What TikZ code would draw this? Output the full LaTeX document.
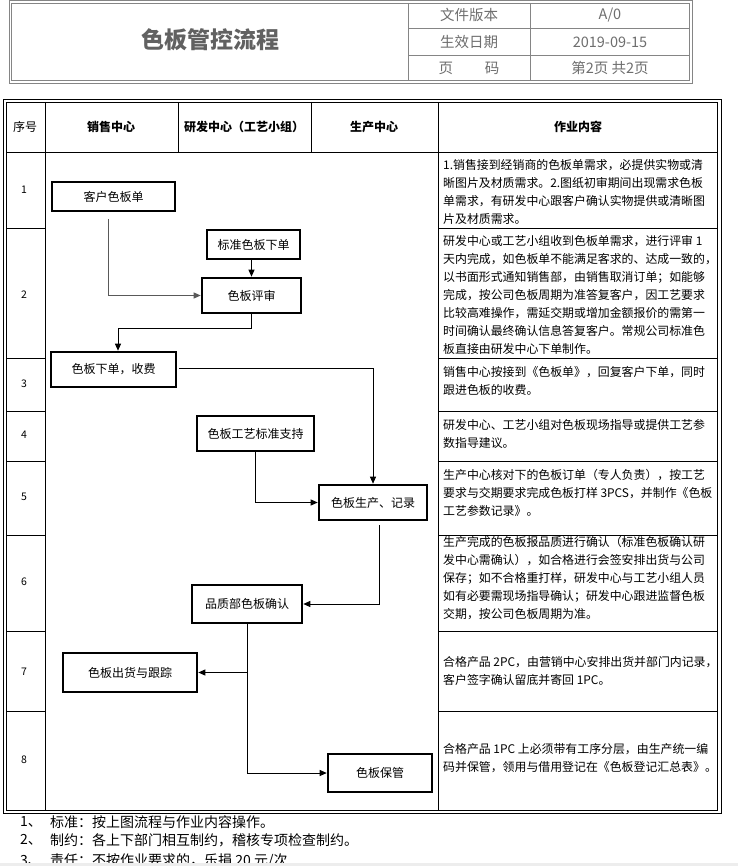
\documentclass[tikz,border=0pt]{standalone}
\usepackage{fontspec}
\setmainfont{Noto Sans CJK SC}
\usetikzlibrary{arrows.meta}
\definecolor{hdrline}{HTML}{858585}
\definecolor{hdrtext}{HTML}{6E6E6E}
\tikzset{
  box/.style={draw=black,line width=2.6pt,inner sep=0pt,font=\fontsize{12}{14}\selectfont},
  conn/.style={draw=black,line width=0.9pt},
  arr/.style={conn,-{Triangle[length=7pt,width=6pt]}},
  rowtxt/.style={anchor=west,inner sep=0pt,font=\fontsize{11.9}{14}\selectfont},
  numtxt/.style={inner sep=0pt,font=\fontsize{10.5}{12}\selectfont},
  headtxt/.style={inner sep=0pt,font=\fontsize{12}{14}\selectfont\bfseries},
  hcell/.style={inner sep=0pt,text=hdrtext,font=\fontsize{14.5}{16}\selectfont},
  note/.style={anchor=west,inner sep=0pt,font=\fontsize{14}{16}\selectfont}
}
\begin{document}
\begin{tikzpicture}[x=1pt,y=-1pt]
\useasboundingbox[fill=white] (0,0) rectangle (738,866);
% ---------- document header ----------
\draw[hdrline,line width=0.9pt] (9,0.5) rectangle (692,83);
\draw[hdrline,line width=0.9pt] (11.5,3) rectangle (689.5,80.5);
\draw[hdrline,line width=0.9pt] (408,3) -- (408,80.5) (530,3) -- (530,80.5)
  (408,28) -- (689.5,28) (408,55) -- (689.5,55);
\node[inner sep=0pt,text=black!62,font=\fontsize{23}{26}\selectfont\bfseries] (title) at (210,40) {色板管控流程};
\node[hcell] (h1a) at (469,15) {文件版本};
\node[hcell] (h1b) at (610,15) {A/0};
\node[hcell] (h2a) at (469,42) {生效日期};
\node[hcell] (h2b) at (610,42) {2019-09-15};
\node[hcell] (h3a) at (469,68) {页\hspace{2.2em}码};
\node[hcell] (h3b) at (610,68) {第2页\ 共2页};
% ---------- main table ----------
\draw[line width=0.9pt] (3.5,99) rectangle (721,813.5);
\draw[line width=0.9pt] (6.5,102) rectangle (717.5,810.5);
\draw[line width=0.9pt] (45,102) -- (45,810.5) (438,102) -- (438,810.5)
  (178,102) -- (178,152) (311,102) -- (311,152) (6.5,152) -- (717.5,152);
\foreach \yy in {228,358,411,461,535,631,711}{
  \draw[line width=0.9pt] (6.5,\yy) -- (45,\yy) (438,\yy) -- (717.5,\yy);
}
\node[inner sep=0pt,font=\fontsize{12}{14}\selectfont] (hxh) at (25,127) {序号};
\node[headtxt] (hsales) at (111,127) {销售中心};
\node[headtxt] (hrd) at (244,127) {研发中心（工艺小组）};
\node[headtxt] (hprod) at (374,127) {生产中心};
\node[headtxt] (hwork) at (578,127) {作业内容};
% row numbers
\node[numtxt] (n-1) at (24,190) {1};
\node[numtxt] (n-2) at (24,295) {2};
\node[numtxt] (n-3) at (24,384) {3};
\node[numtxt] (n-4) at (24,435) {4};
\node[numtxt] (n-5) at (24,497) {5};
\node[numtxt] (n-6) at (24,582) {6};
\node[numtxt] (n-7) at (24,672) {7};
\node[numtxt] (n-8) at (24,760) {8};
% work content
\foreach \t [count=\i from 0] in {{1.销售接到经销商的色板单需求，必提供实物或清},{晰图片及材质需求。2.图纸初审期间出现需求色板},{单需求，有研发中心跟客户确认实物提供或清晰图},{片及材质需求。}}
  \node[rowtxt] (ra-\i) at (443,165+18*\i) {\t};
\foreach \t [count=\i from 0] in {{研发中心或工艺小组收到色板单需求，进行评审 1},{天内完成，如色板单不能满足客求的、达成一致的，},{以书面形式通知销售部，由销售取消订单；如能够},{完成，按公司色板周期为准答复客户，因工艺要求},{比较高难操作，需延交期或增加金额报价的需第一},{时间确认最终确认信息答复客户。常规公司标准色},{板直接由研发中心下单制作。}}
  \node[rowtxt] (rb-\i) at (443,241+18*\i) {\t};
\foreach \t [count=\i from 0] in {{销售中心按接到《色板单》，回复客户下单，同时},{跟进色板的收费。}}
  \node[rowtxt] (rc-\i) at (443,372+18*\i) {\t};
\foreach \t [count=\i from 0] in {{研发中心、工艺小组对色板现场指导或提供工艺参},{数指导建议。}}
  \node[rowtxt] (rd-\i) at (443,425+18*\i) {\t};
\foreach \t [count=\i from 0] in {{生产中心核对下的色板订单（专人负责），按工艺},{要求与交期要求完成色板打样 3PCS，并制作《色板},{工艺参数记录》。}}
  \node[rowtxt] (re-\i) at (443,475+18*\i) {\t};
\foreach \t [count=\i from 0] in {{生产完成的色板报品质进行确认（标准色板确认研},{发中心需确认），如合格进行会签安排出货与公司},{保存；如不合格重打样，研发中心与工艺小组人员},{如有必要需现场指导确认；研发中心跟进监督色板},{交期，按公司色板周期为准。}}
  \node[rowtxt] (rf-\i) at (443,542+18*\i) {\t};
\foreach \t [count=\i from 0] in {{合格产品 2PC，由营销中心安排出货并部门内记录，},{客户签字确认留底并寄回 1PC。}}
  \node[rowtxt] (rg-\i) at (443,662+18*\i) {\t};
\foreach \t [count=\i from 0] in {{合格产品 1PC 上必须带有工序分层，由生产统一编},{码并保管，领用与借用登记在《色板登记汇总表》。}}
  \node[rowtxt] (rh-\i) at (443,749+18*\i) {\t};
% ---------- flow boxes ----------
\node[box,minimum width=123pt,minimum height=29pt] (kh) at (113.5,196.5) {客户色板单};
\node[box,minimum width=93pt,minimum height=29pt] (bz) at (253.5,244.5) {标准色板下单};
\node[box,minimum width=99pt,minimum height=35pt] (ps) at (251.5,295.5) {色板评审};
\node[box,minimum width=125pt,minimum height=35pt] (xd) at (113.5,369.5) {色板下单，收费};
\node[box,minimum width=117pt,minimum height=35pt] (gy) at (255.5,433.5) {色板工艺标准支持};
\node[box,minimum width=108pt,minimum height=35pt] (sc) at (373,502.5) {色板生产、记录};
\node[box,minimum width=110pt,minimum height=38pt] (pz) at (247,604) {品质部色板确认};
\node[box,minimum width=134pt,minimum height=39pt] (ch) at (130,672.5) {色板出货与跟踪};
\node[box,minimum width=104pt,minimum height=38pt] (bg) at (380,773) {色板保管};
% ---------- connectors ----------
\coordinate (khs) at (108,219);
\coordinate (psb) at (118,328);
\coordinate (xds) at (179,368);
\coordinate (scs) at (379,525);
\draw[arr,draw=black!65] (khs) |- (ps.west);
\draw[arr] (ps.north -| bz.south) ++(-2,0) coordinate (bzt) (bz.south -| bzt) -- (bzt);
\draw[arr] (ps.south) |- (psb) -- (psb |- xd.north);
\draw[arr] (xds) -| (sc.north);
\draw[arr] (gy.south) |- (sc.west);
\draw[arr] (scs) |- (pz.east);
\draw[arr] (pz.south) |- (bg.west);
\draw[arr] (pz.south |- ch.east) -- (ch.east);
% ---------- notes ----------
\node[note] (m1) at (20,822) {1、};
\node[note] (t1) at (50,822) {标准：按上图流程与作业内容操作。};
\node[note] (m2) at (20,840) {2、};
\node[note] (t2) at (50,840) {制约：各上下部门相互制约，稽核专项检查制约。};
\node[note] (m3) at (20,861) {3、};
\node[note] (t3) at (50,861) {责任：不按作业要求的，乐捐 20 元/次};
\fill[black!7] (0,862.5) rectangle (738,866);
\end{tikzpicture}
\end{document}
